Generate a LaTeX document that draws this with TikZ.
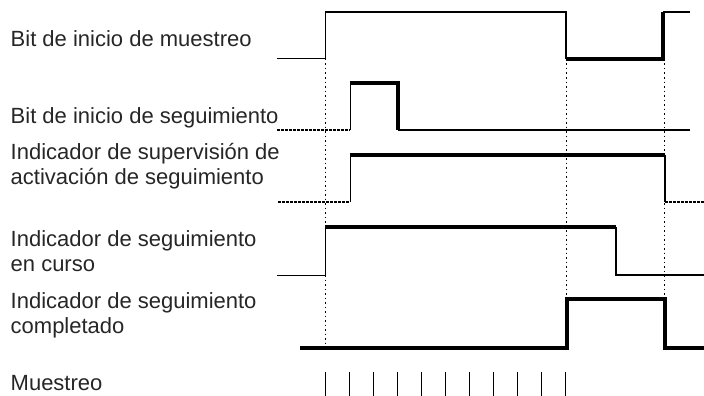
\documentclass[tikz,border=0pt]{standalone}
\usepackage{fontspec}
\setmainfont{Liberation Sans}
\begin{document}
\begin{tikzpicture}[x=1pt,y=-1pt,
  lbl/.style={anchor=base west, inner sep=0pt, text=black!85, font=\fontsize{22}{25}\selectfont, align=left},
  thinl/.style={line width=1pt},
  medl/.style={line width=2pt},
  thickl/.style={line width=3.6pt},
  dashl/.style={line width=1.2pt, dash pattern=on 3pt off 1pt},
  dotl/.style={line width=1pt, dash pattern=on 1.5pt off 3pt},
  tick/.style={line width=1pt}]
\useasboundingbox (0,0) rectangle (704,396);
% labels
\node[lbl] (l1) at (10.5,46.5) {Bit de inicio de muestreo};
\node[lbl] (l2) at (10.5,123.3) {Bit de inicio de seguimiento};
\node[lbl] (l3) at (10.5,184.5) {Indicador de supervisión de\\activación de seguimiento};
\node[lbl] (l4) at (10.5,271.7) {Indicador de seguimiento\\en curso};
\node[lbl] (l5) at (10.5,333.3) {Indicador de seguimiento\\completado};
\node[lbl] (l6) at (10.5,390) {Muestreo};
% dotted guides
\draw[dotl] (325,59) -- (325,348);
\draw[dotl] (566,59) -- (566,299);
\draw[dotl] (664,59) -- (664,299);
% signal 1
\draw[thinl] (277,59) -- (325,59) -- (325,12);
\draw[medl] (325,12) -- (566,12) -- (566,59);
\draw[thickl] (566,59) -- (663,59) -- (663,12);
\draw[medl] (663,12) -- (690,12);
% signal 2
\draw[dashl] (277,130) -- (350,130);
\draw[thinl] (350,130) -- (350,83);
\draw[thickl] (350,83) -- (398,83) -- (398,130);
\draw[medl] (398,130) -- (690,130);
% signal 3
\draw[dashl] (278,202) -- (350,202);
\draw[thinl] (350,202) -- (350,155);
\draw[thickl] (350,155) -- (665,155);
\draw[medl] (665,155) -- (665,202);
\draw[dashl] (665,202) -- (704,202);
% signal 4
\draw[thinl] (277,275) -- (325,275) -- (325,227);
\draw[thickl] (325,227) -- (616,227);
\draw[medl] (616,227) -- (616,275) -- (704,275);
% signal 5
\draw[thickl] (300,348) -- (567,348) -- (567,299) -- (665,299) -- (665,348) -- (704,348);
% sampling ticks
\foreach \k in {0,...,10} {
  \draw[tick] (325+24*\k,372) -- (325+24*\k,396);
}
\end{tikzpicture}
\end{document}
